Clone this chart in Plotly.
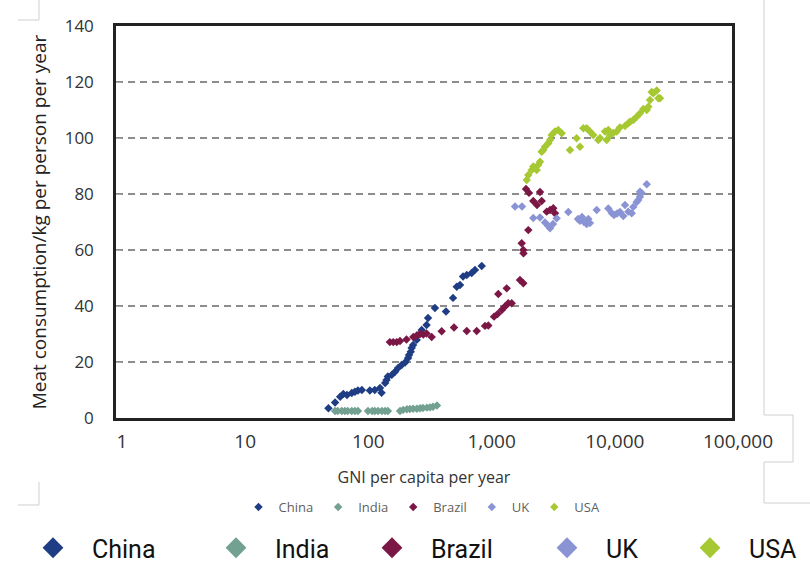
import plotly.graph_objects as go

countries = ["China", "India", "Brazil", "UK", "USA"]
colors = ["#1f3d84", "#73a191", "#7b1744", "#8a94d4", "#a6c832"]

# GNI per capita per year (log scale) and meat consumption (kg/person/year)
china_gni = [53, 60, 66, 70, 75, 82, 87, 92, 99, 115, 126, 139, 143, 153, 157, 161, 173, 184,
             195, 208, 222, 235, 239, 247, 251, 258, 276, 283, 303, 332, 341, 388, 477, 544,
             583, 620, 656, 703, 771, 820, 930]
china_meat = [3.5, 5.5, 7.6, 8.6, 8.2, 8.9, 9.4, 9.8, 10.0, 9.8, 10.0, 10.7, 9.0, 12.5, 13.6,
              14.8, 15.4, 16.5, 17.9, 18.9, 19.8, 21.4, 22.5, 23.7, 25.0, 26.1, 27.9, 29.6,
              31.4, 33.2, 35.7, 39.3, 38.0, 42.9, 46.9, 47.5, 50.5, 51.1, 51.8, 52.9, 54.3]

india_gni = [60, 63, 68, 72, 76, 82, 87, 92, 111, 120, 126, 134, 144, 153, 161, 202, 214,
             230, 243, 258, 277, 294, 310, 334, 354, 374, 403]
india_meat = [2.5, 2.5, 2.5, 2.5, 2.5, 2.5, 2.5, 2.5, 2.5, 2.5, 2.5, 2.5, 2.5, 2.5, 2.5,
              2.5, 2.9, 3.1, 3.2, 3.3, 3.3, 3.5, 3.6, 3.7, 3.8, 4.0, 4.5]

brazil_gni = [167, 178, 190, 202, 228, 259, 276, 294, 312, 332, 365, 440, 554, 703, 847, 989,
              1052, 1171, 1250, 1352, 1436, 1528, 1629, 1268, 1484, 1901, 2023, 1963, 2023,
              2030, 2222, 2128, 2250, 2438, 2765, 2853, 2613, 3133, 3334, 3543, 3656]
brazil_meat = [27.1, 27.1, 27.1, 27.5, 28.0, 28.9, 29.5, 30.0, 29.8, 30.2, 28.9, 31.0, 32.3,
               31.1, 31.1, 32.9, 33.0, 36.2, 37.1, 38.6, 39.8, 41.0, 41.0, 44.3, 46.3, 49.3,
               48.1, 62.4, 60.0, 58.8, 67.1, 81.8, 80.4, 77.5, 80.7, 77.5, 76.1, 73.7, 74.3,
               74.9, 73.1]

uk_gni = [1733, 1974, 2438, 2765, 3035, 3229, 3334, 3524, 3776, 4691, 5623, 5834, 6057, 6289,
          6618, 6818, 7033, 7974, 9908, 10560, 11020, 11660, 12330, 13120, 13530, 14390,
          15340, 15810, 16840, 17350, 17910, 18480, 17910, 20320]
uk_meat = [75.5, 75.5, 71.4, 71.6, 69.8, 68.6, 67.8, 69.3, 71.3, 73.6, 71.1, 70.4, 71.8, 70.0,
           69.3, 71.1, 69.6, 74.3, 74.8, 73.2, 72.5, 73.0, 73.6, 72.1, 76.1, 73.7, 73.1, 75.4,
           77.1, 77.9, 79.0, 80.4, 80.8, 83.5]

usa_gni = [2156, 2222, 2368, 2438, 2599, 2677, 2765, 2853, 2939, 3035, 3229, 3334, 3438, 3656,
           3890, 4146, 4842, 5483, 5834, 6209, 6618, 7033, 7482, 8219, 8488, 9311, 9616, 9908,
           10230, 10890, 11590, 12330, 13530, 14390, 14860, 15810, 16840, 17910, 19060, 20320,
           20940, 21600, 22290, 22980, 24470, 25240, 26040]
usa_meat = [85.0, 86.8, 88.6, 89.8, 88.6, 90.4, 91.5, 95.1, 95.7, 96.9, 98.1, 99.3, 101.1,
            102.3, 102.9, 101.7, 95.7, 99.9, 96.9, 103.5, 103.5, 102.3, 101.1, 99.3, 100.0,
            102.3, 99.3, 102.9, 101.1, 101.8, 102.3, 103.8, 104.3, 105.3, 105.8, 106.4, 107.6,
            108.8, 110.4, 110.0, 111.2, 113.6, 116.4, 116.0, 117.0, 114.2, 114.2]

x_tickvals = [1, 10, 100, 1000, 10000, 100000]
x_ticktext = ["1", "10", "100", "1,000", "10,000", "100,000"]

series = [
    (china_gni, china_meat),
    (india_gni, india_meat),
    (brazil_gni, brazil_meat),
    (uk_gni, uk_meat),
    (usa_gni, usa_meat),
]

W, H = 810, 571
L, R, T, B = 116, 78, 26, 153
pw, ph = W - L - R, H - T - B

# pixel centres of the large legend markers (one legend box per entry)
big_legend_marker_x = [52, 235, 391, 566, 709]
BIG_OFFSET = 38

fig = go.Figure()
for name, (gx, my), col in zip(countries, series, colors):
    fig.add_trace(go.Scatter(
        x=gx, y=my, mode="markers", name=name, legend="legend",
        marker=dict(symbol="diamond", size=6.5, color=col, line=dict(width=0)),
    ))
big_legends = {}
for i, (name, col) in enumerate(zip(countries, colors)):
    lid = "legend%d" % (i + 2)
    fig.add_trace(go.Scatter(
        x=[None], y=[None], mode="markers", name=name, legend=lid,
        marker=dict(symbol="diamond", size=16, color=col, line=dict(width=0)),
        hoverinfo="skip",
    ))
    big_legends[lid] = dict(
        orientation="h", xref="container", yref="container",
        x=(big_legend_marker_x[i] - BIG_OFFSET) / W, xanchor="left",
        y=1 - 548 / H, yanchor="middle",
        font=dict(size=25, color="#111111", family="Roboto"), itemwidth=68,
        bgcolor="rgba(0,0,0,0)",
    )


def px(x):
    return (x - L) / pw


def py(y):
    return (H - B - y) / ph


line_style = dict(color="#cfcfcf", width=1)
frame_lines = [
    (764, 0, 764, 415), (764, 415, 793, 415), (793, 415, 793, 462), (793, 462, 764, 462),
    (764, 462, 764, 503), (764, 503, 810, 503),
    (18, 20, 39, 20), (39, 0, 39, 20),
    (39, 482, 39, 505), (18, 505, 39, 505),
]
shapes = [dict(type="line", xref="paper", yref="paper", x0=px(a), y0=py(b), x1=px(c), y1=py(d),
               line=line_style, layer="below") for a, b, c, d in frame_lines]

fig.update_layout(
    width=W, height=H,
    margin=dict(l=L, r=R, t=T, b=B),
    paper_bgcolor="white", plot_bgcolor="white",
    font=dict(family="Open Sans", color="#333333"),
    showlegend=True,
    shapes=shapes,
    xaxis=dict(
        type="log", range=[0, 5], tickvals=x_tickvals, ticktext=x_ticktext, automargin=False,
        showgrid=False, zeroline=False, showline=True, linecolor="#222222", linewidth=2.5,
        mirror=True, ticks="", tickfont=dict(size=19, color="#333333"), ticklabelstandoff=4,
        ticklabelshift=6,
        title=dict(text="GNI per capita per year", font=dict(size=16, color="#333333"), standoff=20),
    ),
    yaxis=dict(
        range=[0, 140], dtick=20, showgrid=True, gridcolor="#8c8c8c", gridwidth=2,
        griddash="7px,5px", zeroline=False, showline=True, linecolor="#222222", linewidth=2.5,
        mirror=True, ticks="inside", ticklen=5, tickcolor="#aaaaaa", automargin=False,
        tickfont=dict(size=17, color="#333333"), ticklabelstandoff=16,
        title=dict(text="Meat consumption/kg per person per year",
                   font=dict(size=19, color="#222222"), standoff=14),
    ),
    legend=dict(
        orientation="h", xref="container", yref="container",
        x=422 / W, xanchor="center", y=1 - 507 / H, yanchor="middle",
        font=dict(size=13, color="#5f5f5f"), itemwidth=30, bgcolor="rgba(0,0,0,0)",
    ),
    **big_legends,
)

fig.write_html("out.html", config={"displayModeBar": False},
               post_script="document.body.style.margin='0';")
